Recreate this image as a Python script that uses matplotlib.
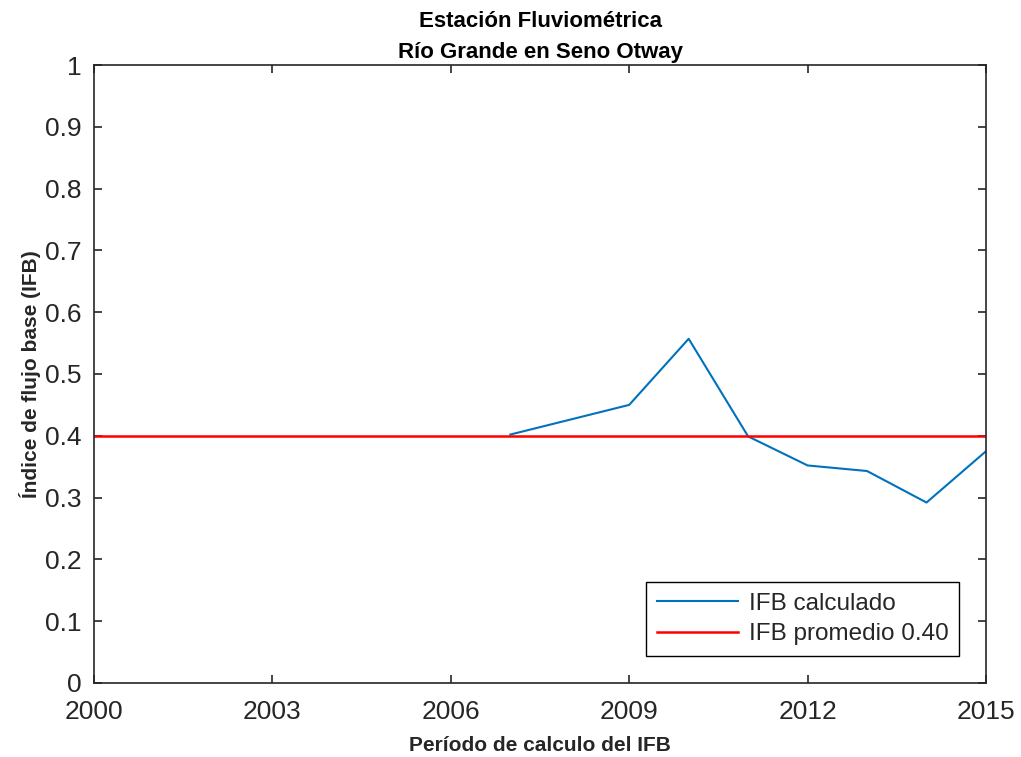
import matplotlib as mpl
import matplotlib.pyplot as plt
from matplotlib.ticker import MultipleLocator

years = [2007, 2009, 2010, 2011, 2012, 2013, 2014, 2015]
ifb_calc = [0.402, 0.450, 0.557, 0.399, 0.352, 0.343, 0.292, 0.375]
ifb_mean = 0.40
x_ticks = [2000, 2003, 2006, 2009, 2012, 2015]

TICK_FONT = ["Liberation Sans", "DejaVu Sans"]
LABEL_FONT = ["Liberation Sans Narrow", "Liberation Sans", "DejaVu Sans"]
DARK = "#262626"

mpl.rcParams.update({
    "font.family": TICK_FONT,
    "axes.linewidth": 1.2,
    "axes.edgecolor": DARK,
    "xtick.color": DARK,
    "ytick.color": DARK,
    "xtick.direction": "in",
    "ytick.direction": "in",
    "xtick.top": True,
    "ytick.right": True,
    "xtick.major.size": 6,
    "ytick.major.size": 6,
    "xtick.major.width": 1.2,
    "ytick.major.width": 1.2,
})

fig = plt.figure(figsize=(10.21, 7.57), dpi=100)
ax = fig.add_axes([0.0921, 0.0978, 0.8736, 0.8163])

ax.plot(years, ifb_calc, color="#0072BD", linewidth=1.5, label="IFB calculado")
ax.axhline(ifb_mean, color="#FF0000", linewidth=1.8,
           label=f"IFB promedio {ifb_mean:.2f}")

ax.set_xlim(2000, 2015)
ax.set_ylim(0, 1)
ax.set_xticks(x_ticks)
ax.yaxis.set_major_locator(MultipleLocator(0.1))
ax.set_yticklabels([f"{v:g}" for v in ax.get_yticks()])
ax.tick_params(labelsize=19)
ax.tick_params(axis="x", pad=12)
ax.tick_params(axis="y", pad=9)

ax.set_title("Estación Fluviométrica\nRío Grande en Seno Otway",
             family=LABEL_FONT, fontweight="bold", fontsize=16, color="#000000",
             pad=5, linespacing=1.6)
ax.set_xlabel("Período de calculo del IFB", family=LABEL_FONT,
              fontweight="bold", fontsize=15, color=DARK, labelpad=9)
ax.set_ylabel("Índice de flujo base (IFB)", family=LABEL_FONT,
              fontweight="bold", fontsize=15, color=DARK, labelpad=3)

leg = ax.legend(loc="lower right", fontsize=17.5, frameon=True, fancybox=False,
                edgecolor="#000000", framealpha=1, handlelength=3.3,
                borderaxespad=1.1, labelspacing=0.35, handletextpad=0.45,
                borderpad=0.45)
leg.get_frame().set_linewidth(1.0)
for t in leg.get_texts():
    t.set_color(DARK)

fig.savefig("out.png", dpi=100)
